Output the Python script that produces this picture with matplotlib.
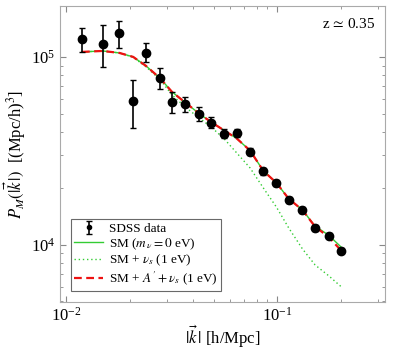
import numpy as np
import matplotlib
matplotlib.use('Agg')
from matplotlib import pyplot as plt

plt.rcParams['font.family'] = ['Liberation Serif', 'DejaVu Serif']
plt.rcParams['mathtext.fontset'] = 'stix'

# SDSS data points
k_data = [0.0119, 0.0149, 0.0179, 0.0208, 0.0239, 0.0279, 0.0318, 0.0367, 0.0427, 0.0486,
          0.0562, 0.0644, 0.0745, 0.0861, 0.0993, 0.1136, 0.1318, 0.1514, 0.1758, 0.2018]
p_data = [1.247e5, 1.18e5, 1.34e5, 5.85e4, 1.05e5, 7.73e4, 5.78e4, 5.64e4, 4.99e4, 4.48e4,
          3.92e4, 3.94e4, 3.14e4, 2.47e4, 2.13e4, 1.74e4, 1.53e4, 1.23e4, 1.12e4, 9.3e3]
p_lo = [1.067e5, 8.87e4, 1.12e5, 4.2e4, 9.44e4, 6.78e4, 5.05e4, 5.12e4, 4.6e4, 4.18e4,
        3.7e4, 3.75e4, 3.0e4, 2.37e4, 2.05e4, 1.68e4, 1.48e4, 1.19e4, 1.09e4, 9.0e3]
p_hi = [1.43e5, 1.486e5, 1.56e5, 7.57e4, 1.19e5, 8.77e4, 6.53e4, 6.14e4, 5.4e4, 4.8e4,
        4.15e4, 4.15e4, 3.3e4, 2.58e4, 2.22e4, 1.81e4, 1.59e4, 1.28e4, 1.16e4, 9.6e3]

# model curves, sampled at the data k values
p_sm = [1.067e5, 1.08e5, 1.054e5, 1.004e5, 9.0e4, 7.73e4, 6.53e4, 5.74e4, 5.01e4, 4.52e4,
        4.07e4, 3.69e4, 3.18e4, 2.48e4, 2.14e4, 1.76e4, 1.535e4, 1.26e4, 1.125e4, 9.7e3]
p_nus = [1.067e5, 1.08e5, 1.054e5, 1.0e5, 8.9e4, 7.6e4, 6.3e4, 5.43e4, 4.75e4, 4.26e4,
         3.67e4, 3.09e4, 2.57e4, 2.01e4, 1.59e4, 1.23e4, 9.53e3, 7.82e3, 6.84e3, 5.97e3]
p_ap = [1.067e5, 1.08e5, 1.054e5, 1.004e5, 9.0e4, 7.73e4, 6.53e4, 5.74e4, 5.01e4, 4.52e4,
        4.07e4, 3.69e4, 3.18e4, 2.48e4, 2.14e4, 1.76e4, 1.535e4, 1.25e4, 1.10e4, 9.29e3]

fig = plt.figure(figsize=(3.95, 3.49), dpi=100)
ax = fig.add_axes([0.152, 0.135, 0.823, 0.848])

ax.plot(k_data, p_sm, color='#33cc33', lw=1.0, label=r'SM ($m_{\,\nu} = 0$ eV)', zorder=3)
ax.plot(k_data, p_nus, color='#33cc33', lw=1.0, ls=(0, (1, 2)), label=r'SM + $\nu_s$ (1 eV)', zorder=3)
ax.plot(k_data, p_ap, color='#ee1111', lw=1.6, ls=(0, (3.5, 2)), label=r"SM + $A\,' + \nu_s$ (1 eV)", zorder=4)

yerr = [np.array(p_data) - np.array(p_lo), np.array(p_hi) - np.array(p_data)]
ax.errorbar(k_data, p_data, yerr=yerr, fmt='o', color='black', ms=6, elinewidth=1.2,
            capsize=2, capthick=1.0, label='SDSS data', zorder=5)

ax.set_xscale('log')
ax.set_yscale('log')
ax.set_xlim(0.00937, 0.325)
ax.set_ylim(4970, 1.876e5)

for s in ax.spines.values():
    s.set_color('#aaaaaa')
ax.tick_params(which='both', direction='in', top=True, right=True, color='#888888', labelsize=12)
ax.tick_params(which='major', length=4)
ax.tick_params(which='minor', length=2)

ax.set_xlabel(r'$|\vec{k}\,|$ [h/Mpc]', fontsize=12, labelpad=-1)
ax.set_ylabel(r'$P_M(|\vec{k}\,|)$  [(Mpc/h)$^3$]', fontsize=12, labelpad=2)

ax.text(0.97, 0.94, r'z$\,\simeq\,$0.35', transform=ax.transAxes, ha='right', va='center', fontsize=11)

handles, labels = ax.get_legend_handles_labels()
order = [3, 0, 1, 2]
leg = ax.legend([handles[i] for i in order], [labels[i] for i in order], loc='lower left',
                bbox_to_anchor=(0.022, 0.025), fontsize=9.5, frameon=True, fancybox=False,
                edgecolor='#444444', handlelength=2.2, borderpad=0.25, labelspacing=0.1,
                handletextpad=0.4, markerscale=0.5, borderaxespad=0.3)
leg.get_frame().set_linewidth(0.8)

fig.savefig('out.png', dpi=100)
